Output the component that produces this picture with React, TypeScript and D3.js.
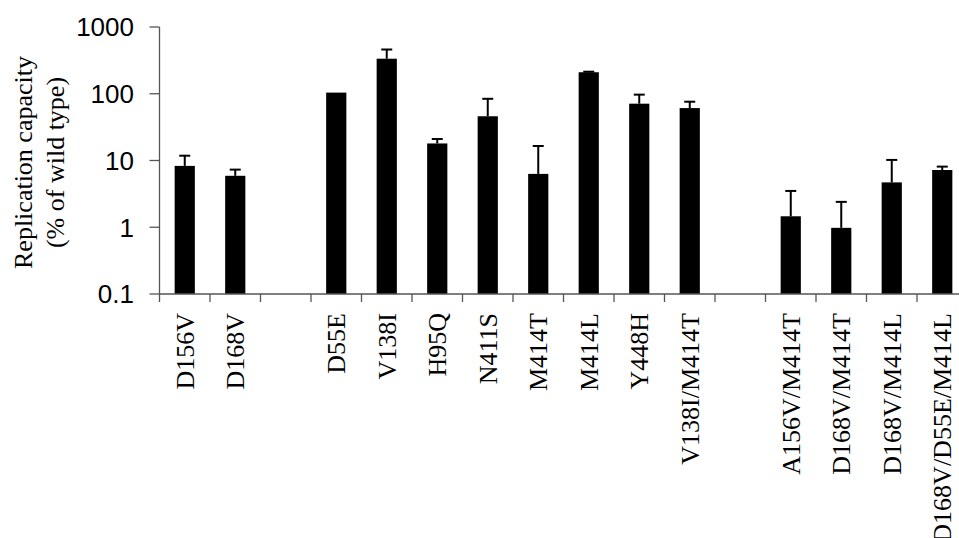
import React from "react";
import * as d3 from "d3";

const categories = ["D156V", "D168V", "gap1", "D55E", "V138I", "H95Q", "N411S", "M414T", "M414L", "Y448H", "V138I/M414T", "gap2", "A156V/M414T", "D168V/M414T", "D168V/M414L", "D168V/D55E/M414L"];
const values: (number | null)[] = [8.3, 5.9, null, 104, 335, 18, 46, 6.3, 210, 71, 61, null, 1.46, 0.98, 4.7, 7.2];
const errorTops: (number | null)[] = [11.8, 7.3, null, 104, 460, 21, 84, 16.5, 214, 97, 76, null, 3.5, 2.4, 10.2, 8.1];
const yTicks = [0.1, 1, 10, 100, 1000];
const yTickLabels = ["0.1", "1", "10", "100", "1000"];
const yTitle = ["Replication capacity", "(% of wild type)"];

export default function App() {
  const W = 959, H = 538;
  const x0 = 159.5, step = 50.5;
  const x = d3.scaleBand<string>().domain(categories).range([x0, x0 + step * categories.length]).padding(0);
  const y = d3.scaleLog().domain([0.1, 1000]).range([294, 27]);
  const barW = x.bandwidth() * 0.4;
  const capW = 11;
  const axisColor = "#555";
  const serif = "'Liberation Serif', 'Times New Roman', serif";
  const sans = "'Liberation Sans', Arial, sans-serif";
  const base = y(0.1);
  const ticksX = d3.range(categories.length + 1).map((i) => x0 + i * step);

  return (
    <svg width={W} height={H} style={{ position: "absolute", left: 0, top: 0, background: "#fff" }}>
      {/* bars */}
      {categories.map((c, i) => {
        const v = values[i];
        if (v == null) return null;
        const cx = (x(c) as number) + x.bandwidth() / 2;
        const top = y(v);
        const et = errorTops[i] as number;
        return (
          <g key={c}>
            <rect x={cx - barW / 2} y={top} width={barW} height={base - top} fill="#000" />
            {et > v * 1.01 && (
              <g stroke="#000" strokeWidth={2}>
                <line x1={cx} x2={cx} y1={top} y2={y(et)} />
                <line x1={cx - capW / 2} x2={cx + capW / 2} y1={y(et)} y2={y(et)} />
              </g>
            )}
          </g>
        );
      })}
      {/* y axis */}
      <line x1={x0} x2={x0} y1={y(1000)} y2={base} stroke={axisColor} strokeWidth={1.3} />
      {yTicks.map((t, i) => (
        <g key={t}>
          <line x1={x0 - 10} x2={x0} y1={y(t)} y2={y(t)} stroke={axisColor} strokeWidth={1.3} />
          <text x={134} y={y(t)} dy="0.36em" textAnchor="end" fontFamily={sans} fontSize={26} fill="#000">
            {yTickLabels[i]}
          </text>
        </g>
      ))}
      {/* x axis */}
      <line x1={x0} x2={W} y1={base} y2={base} stroke={axisColor} strokeWidth={1.3} />
      {ticksX.map((tx, i) => (
        <line key={i} x1={tx} x2={tx} y1={base} y2={base + 8} stroke={axisColor} strokeWidth={1.3} />
      ))}
      {categories.map((c, i) => {
        if (values[i] == null) return null;
        const cx = (x(c) as number) + x.bandwidth() / 2;
        return (
          <text key={c} transform={`translate(${cx},313) rotate(-90)`} dy="0.35em" textAnchor="end" fontFamily={serif} fontSize={26} fill="#000">
            {c}
          </text>
        );
      })}
      {/* y title */}
      <g transform={`translate(0,${(y(1000) + base) / 2 + 2}) rotate(-90)`}>
        <text x={0} y={32} textAnchor="middle" fontFamily={serif} fontSize={26} fill="#000">{yTitle[0]}</text>
        <text x={0} y={64} textAnchor="middle" fontFamily={serif} fontSize={26} fill="#000">{yTitle[1]}</text>
      </g>
    </svg>
  );
}
